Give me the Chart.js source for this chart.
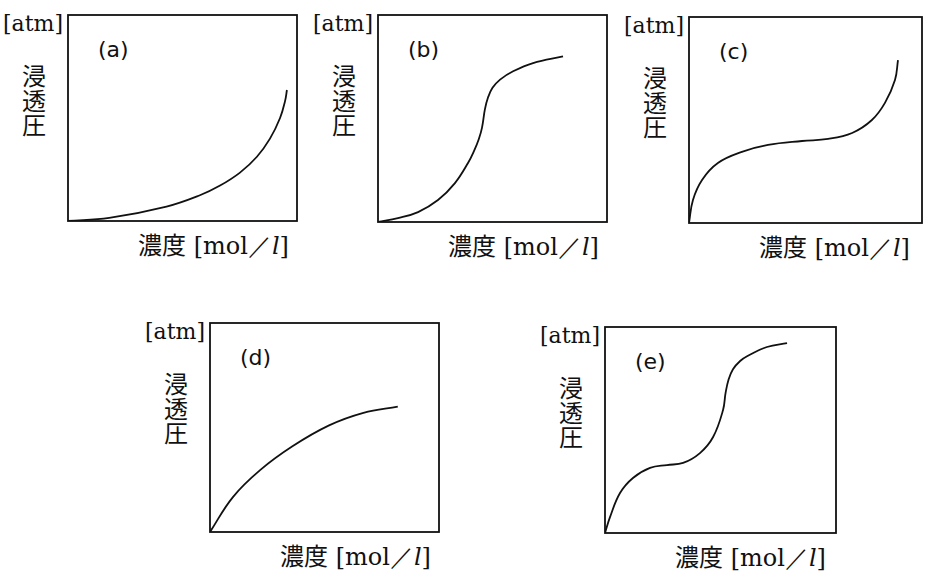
<!DOCTYPE html>
<html>
<head>
<meta charset="utf-8">
<script src="https://cdn.jsdelivr.net/npm/chart.js@4"></script>
<style>
body { margin:0; background:#fff; width:931px; height:572px; position:relative; overflow:hidden; }
.panel { position:absolute; }
.panel canvas { position:absolute; left:-3px; top:-3px; }
.unit { position:absolute; font-family:"DejaVu Serif"; font-size:22px; line-height:22px; white-space:nowrap; color:#111; }
.tag { position:absolute; font-family:"DejaVu Sans"; font-size:22px; line-height:22px; color:#111; }
.ylab { position:absolute; font-family:"Noto Sans CJK JP"; font-size:24px; line-height:24.5px; color:#111; width:26px; text-align:center; }
.xlab { position:absolute; white-space:nowrap; color:#111; font-size:24px; line-height:24px; }
.xlab .jp { font-family:"Noto Sans CJK JP"; }
.xlab .sr { font-family:"DejaVu Serif"; }
</style>
</head>
<body>
<script>
// 浸透圧 vs 濃度, five shapes, both axes 0..1 of the box
let tags = ['(a)', '(b)', '(c)', '(d)', '(e)']

let xa = [0, 0.18, 0.43, 0.576, 0.664, 0.751, 0.825, 0.882, 0.926, 0.948, 0.956]
let ya = [0, 0.015, 0.070, 0.125, 0.172, 0.235, 0.312, 0.400, 0.500, 0.583, 0.636]

let xb = [0, 0.087, 0.175, 0.262, 0.336, 0.393, 0.420, 0.440, 0.454, 0.467, 0.480, 0.500, 0.533, 0.590, 0.677, 0.808]
let yb = [0, 0.019, 0.048, 0.106, 0.188, 0.285, 0.345, 0.400, 0.455, 0.545, 0.600, 0.648, 0.688, 0.728, 0.768, 0.800]

let xc = [0, 0.017, 0.056, 0.124, 0.227, 0.339, 0.485, 0.597, 0.700, 0.785, 0.841, 0.884, 0.897]
let yc = [0, 0.112, 0.209, 0.291, 0.345, 0.379, 0.398, 0.408, 0.437, 0.500, 0.583, 0.694, 0.791]

let xd = [0, 0.10, 0.22, 0.36, 0.52, 0.67, 0.82]
let yd = [0, 0.167, 0.297, 0.41, 0.51, 0.57, 0.60]

let xe = [0, 0.022, 0.065, 0.121, 0.195, 0.268, 0.338, 0.411, 0.468, 0.511, 0.522, 0.535, 0.554, 0.585, 0.615, 0.701, 0.788]
let ye = [0, 0.078, 0.194, 0.267, 0.316, 0.330, 0.340, 0.388, 0.466, 0.597, 0.680, 0.745, 0.795, 0.835, 0.858, 0.903, 0.922]

let curves = [[xa, ya], [xb, yb], [xc, yc], [xd, yd], [xe, ye]]

// box placement on the page
let boxes = [
    {l: 68, t: 15, w: 229, h: 206},
    {l: 378, t: 15, w: 229, h: 207},
    {l: 689, t: 17, w: 233, h: 206},
    {l: 210, t: 323, w: 229, h: 209},
    {l: 605, t: 327, w: 231, h: 206}
]

const frame = {
    id: 'frame',
    afterDraw(chart) {
        const a = chart.chartArea, c = chart.ctx
        c.save()
        c.strokeStyle = '#111'
        c.lineWidth = 1.8
        c.strokeRect(a.left, a.top, a.right - a.left, a.bottom - a.top)
        c.restore()
    }
}

boxes.forEach((b, i) => {
    var p = document.createElement('div')
    p.className = 'panel'
    p.style.left = b.l + 'px'
    p.style.top = b.t + 'px'
    p.style.width = b.w + 'px'
    p.style.height = b.h + 'px'
    p.innerHTML =
        '<div class="unit" style="left:-65px;top:-2px">[atm]</div>' +
        '<div class="tag" style="left:30px;top:24px">' + tags[i] + '</div>' +
        '<div class="ylab" style="left:-47px;top:48px">浸<br>透<br>圧</div>' +
        '<div class="xlab" style="left:70px;top:' + (b.h + 11) + 'px"><span class="jp">濃度</span><span class="sr"> [mol／<i>l</i>]</span></div>'
    var cv = document.createElement('canvas')
    cv.width = b.w + 6
    cv.height = b.h + 6
    p.appendChild(cv)
    document.body.appendChild(p)

    var xs = curves[i][0], ys = curves[i][1]
    new Chart(cv.getContext('2d'), {
        type: 'scatter',
        data: {
            datasets: [{
                data: xs.map((x, k) => ({x: x, y: ys[k]})),
                showLine: true,
                borderColor: '#111',
                borderWidth: 1.8,
                pointRadius: 0,
                tension: 0.4,
                fill: false
            }]
        },
        options: {
            responsive: false,
            devicePixelRatio: 1,
            animation: false,
            layout: { padding: 3 },
            plugins: { legend: { display: false }, tooltip: { enabled: false } },
            scales: {
                x: { type: 'linear', min: 0, max: 1, display: false },
                y: { type: 'linear', min: 0, max: 1, display: false }
            }
        },
        plugins: [frame]
    })
})
</script>
</body>
</html>
